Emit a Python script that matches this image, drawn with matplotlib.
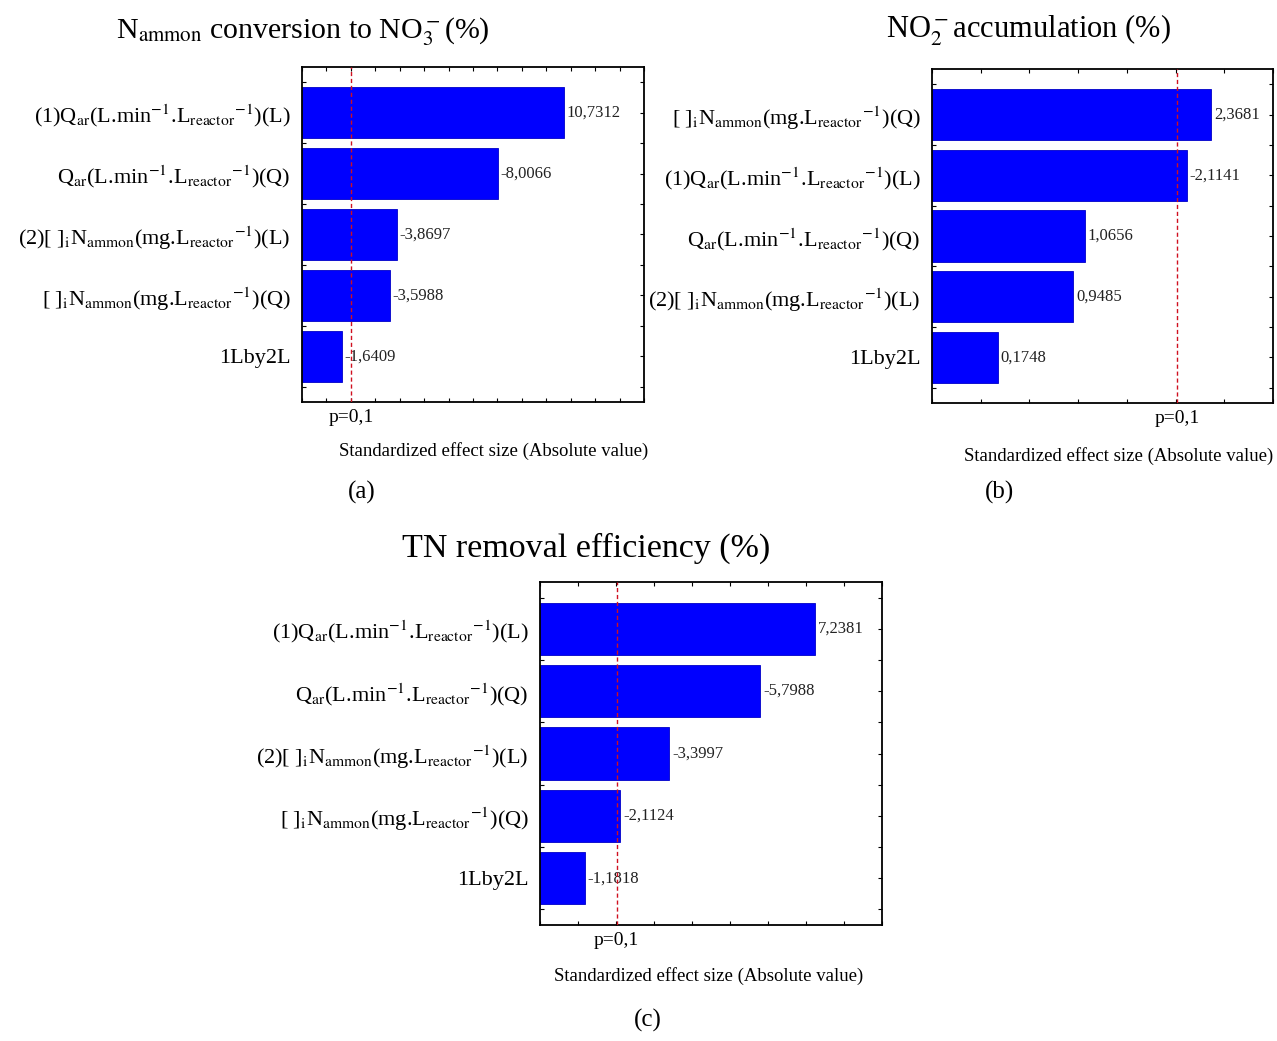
"""
Pareto charts of standardized effects for three responses (a), (b), (c)
"""
import matplotlib
matplotlib.use("Agg")
import matplotlib.pyplot as plt
from matplotlib.ticker import MultipleLocator

plt.rcParams['font.family'] = ['Liberation Serif', 'DejaVu Serif']
plt.rcParams['mathtext.fontset'] = 'stix'

# Factor labels (Statistica style)
LBL_Q_L = r"(1)Q$_{\mathrm{ar}}$(L.min$^{-1}$.L$_{\mathrm{reactor}}$$^{-1}$)(L)"
LBL_Q_Q = r"Q$_{\mathrm{ar}}$(L.min$^{-1}$.L$_{\mathrm{reactor}}$$^{-1}$)(Q)"
LBL_N_L = r"(2)[ ]$_{\mathrm{i}}$N$_{\mathrm{ammon}}$(mg.L$_{\mathrm{reactor}}$$^{-1}$)(L)"
LBL_N_Q = r"[ ]$_{\mathrm{i}}$N$_{\mathrm{ammon}}$(mg.L$_{\mathrm{reactor}}$$^{-1}$)(Q)"
LBL_INT = "1Lby2L"

# (a) N_ammon conversion to NO3-
labels_a = [LBL_Q_L, LBL_Q_Q, LBL_N_L, LBL_N_Q, LBL_INT]
effects_a = [10.7312, -8.0066, -3.8697, -3.5988, -1.6409]

# (b) NO2- accumulation
labels_b = [LBL_N_Q, LBL_Q_L, LBL_Q_Q, LBL_N_L, LBL_INT]
effects_b = [2.3681, -2.1141, 1.0656, 0.9485, 0.1748]

# (c) TN removal efficiency
labels_c = [LBL_Q_L, LBL_Q_Q, LBL_N_L, LBL_N_Q, LBL_INT]
effects_c = [7.2381, -5.7988, -3.3997, -2.1124, -1.1818]

P_CRIT = 2.015  # t value for p=0,1

BAR_COLOR = '#0000ff'
LINE_COLOR = '#d01020'


def fmt(v):
    return ("%.4f" % v).replace('.', ',')


def pareto(ax, labels, effects, xlim, step, xlab_frac, xlab_off):
    y = list(range(len(labels)))
    # bars start at the left edge of the axis, like Statistica does
    ax.barh(y, [abs(v) - xlim[0] for v in effects], left=xlim[0],
            height=0.84, color=BAR_COLOR, edgecolor='#0000c8',
            linewidth=0.6, zorder=2)
    for yi, v in zip(y, effects):
        ax.annotate(fmt(v), xy=(abs(v), yi), xytext=(2, 0),
                    textcoords='offset points', ha='left', va='center',
                    fontsize=12, color='#222222', zorder=3)
    ax.axvline(P_CRIT, color=LINE_COLOR, linestyle=(0, (3, 2)), lw=1.0,
               zorder=3)
    ax.set_xlim(*xlim)
    ax.set_ylim(len(labels) - 0.25, -0.75)
    ax.set_yticks(y)
    ax.set_yticklabels(labels, fontsize=16)
    ax.yaxis.set_minor_locator(MultipleLocator(0.5))
    ax.xaxis.set_major_locator(MultipleLocator(step))
    ax.set_xticklabels([])
    ax.tick_params(axis='both', which='both', direction='in', top=True,
                   right=True, length=3, width=0.8)
    ax.tick_params(axis='y', which='major', pad=8)
    for s in ax.spines.values():
        s.set_linewidth(1.3)
    ax.annotate("p=0,1", xy=(P_CRIT, 0), xycoords=('data', 'axes fraction'),
                xytext=(0, -5), textcoords='offset points', ha='center',
                va='top', fontsize=14)
    ax.annotate("Standardized effect size (Absolute value)",
                xy=(xlab_frac, 0), xycoords='axes fraction',
                xytext=(0, xlab_off), textcoords='offset points',
                ha='center', va='center', fontsize=13.5)


fig = plt.figure(figsize=(12.77, 10.41), dpi=100)
W, H = 1277.0, 1041.0

ax_a = fig.add_axes([302 / W, 1 - 402 / H, 342 / W, 335 / H])
ax_b = fig.add_axes([932 / W, 1 - 403 / H, 341 / W, 334 / H])
ax_c = fig.add_axes([540 / W, 1 - 925 / H, 342 / W, 343 / H])

pareto(ax_a, labels_a, effects_a, (0, 14), 1, 0.56, -35)
pareto(ax_b, labels_b, effects_b, (-0.5, 3.0), 0.5, 0.547, -38)
pareto(ax_c, labels_c, effects_c, (0, 9), 1, 0.494, -37)

# Titles
fig.text(303 / W, 1 - 32 / H, r"N$_{\mathrm{ammon}}$ conversion to NO$_3^-$(%)",
         ha='center', va='center', fontsize=21.5)
fig.text(1028 / W, 1 - 30 / H, r"NO$_2^-$accumulation (%)",
         ha='center', va='center', fontsize=22)
fig.text(586 / W, 1 - 548 / H, "TN removal efficiency (%)",
         ha='center', va='center', fontsize=24.5)

# Panel letters
fig.text(362 / W, 1 - 492 / H, "(a)", ha='center', va='center', fontsize=18)
fig.text(1000 / W, 1 - 492 / H, "(b)", ha='center', va='center', fontsize=18)
fig.text(648 / W, 1 - 1020 / H, "(c)", ha='center', va='center', fontsize=18)

fig.savefig("out.png", dpi=100)
